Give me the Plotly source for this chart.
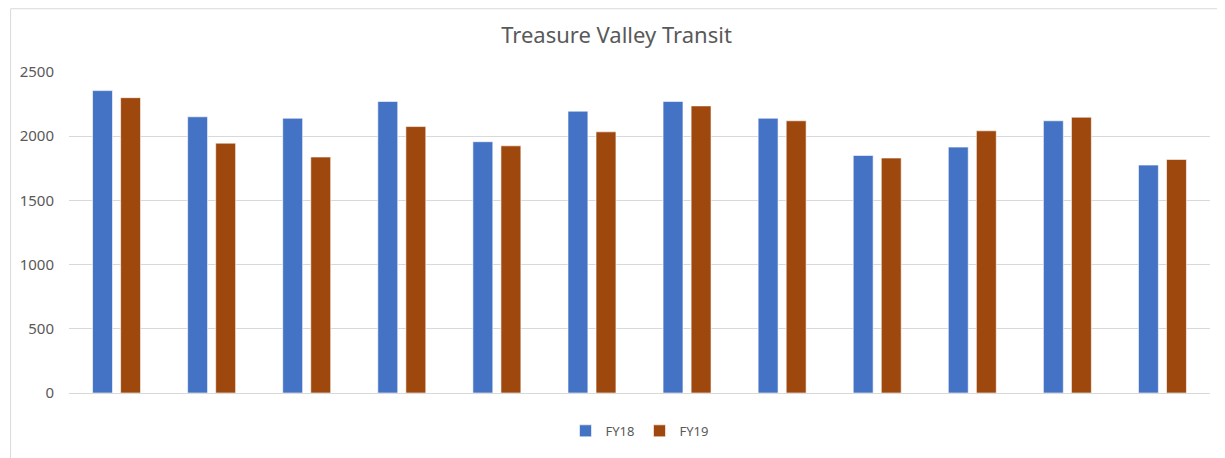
import plotly.graph_objects as go

# twelve periods, no labels shown on the axis
periods = ["Jul", "Aug", "Sep", "Oct", "Nov", "Dec", "Jan", "Feb", "Mar", "Apr", "May", "Jun"]
fy18 = [2355, 2151, 2140, 2270, 1957, 2195, 2270, 2140, 1850, 1915, 2120, 1775]
fy19 = [2300, 1946, 1838, 2075, 1925, 2034, 2236, 2120, 1830, 2042, 2148, 1819]

fig = go.Figure()

fig.add_trace(go.Bar(x=periods, y=fy18, name="FY18",
                     marker=dict(color="#4472C4", line=dict(color="white", width=0.6))))
fig.add_trace(go.Bar(x=periods, y=fy19, name="FY19",
                     marker=dict(color="#9E480E", line=dict(color="white", width=0.6))))

# light outer frame like the spreadsheet chart area
fig.add_shape(type="rect", xref="paper", yref="paper",
              x0=-0.0512, x1=1.03, y0=-0.3, y1=1.197,
              line=dict(color="#D9D9D9", width=1))

fig.update_layout(
    width=1217, height=450,
    margin=dict(l=59, r=15, t=64, b=64),
    paper_bgcolor="white", plot_bgcolor="white",
    font=dict(family="Noto Sans", size=15, color="#595959"),
    title=dict(text="Treasure Valley Transit", x=0.5, xanchor="center",
               y=0.94, yanchor="middle",
               font=dict(family="Noto Sans", size=22, color="#595959")),
    barmode="group", bargap=0.41, bargroupgap=0.29,
    showlegend=True,
    legend=dict(orientation="h", x=0.5, xanchor="center", y=-0.118, yanchor="middle",
                font=dict(size=13, color="#595959"), itemwidth=30),
    xaxis=dict(showticklabels=False, showgrid=False, showline=True,
               linecolor="#D9D9D9", linewidth=1, ticks=""),
    yaxis=dict(range=[0, 2500], dtick=500, showgrid=True, gridcolor="#D9D9D9",
               gridwidth=1, zeroline=False, ticks="", tickfont=dict(size=15, color="#595959"),
               ticklabelstandoff=14),
)

fig.write_html("out.html")
